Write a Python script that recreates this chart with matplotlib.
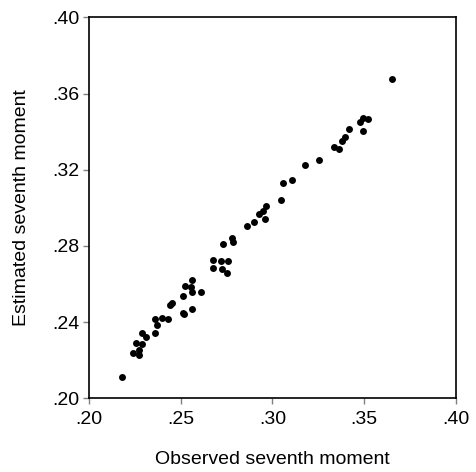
import matplotlib
matplotlib.use("Agg")
import matplotlib.pyplot as plt
from matplotlib.ticker import FuncFormatter

plt.rcParams['font.family'] = ['Liberation Sans', 'DejaVu Sans']

# observed vs estimated seventh moment
observed = [0.2180, 0.2240, 0.2273, 0.2255, 0.2286, 0.2289, 0.2307, 0.2359, 0.2360, 0.2371,
            0.2399, 0.2431, 0.2440, 0.2454, 0.2513, 0.2519, 0.2513, 0.2524, 0.2559, 0.2555,
            0.2562, 0.2559, 0.2610, 0.2673, 0.2677, 0.2719, 0.2724, 0.2750, 0.2755, 0.2732,
            0.2781, 0.2783, 0.2861, 0.2899, 0.2928, 0.2946, 0.2963, 0.2959, 0.3046, 0.3056,
            0.3108, 0.3176, 0.3254, 0.3336, 0.3365, 0.3381, 0.3398, 0.3419, 0.3478, 0.3492,
            0.3523, 0.3496, 0.3654, 0.2273]
estimated = [0.2114, 0.2236, 0.2227, 0.2289, 0.2283, 0.2341, 0.2324, 0.2341, 0.2415, 0.2385,
             0.2420, 0.2415, 0.2490, 0.2502, 0.2450, 0.2441, 0.2537, 0.2591, 0.2621, 0.2583,
             0.2560, 0.2467, 0.2556, 0.2726, 0.2682, 0.2721, 0.2677, 0.2660, 0.2723, 0.2810,
             0.2843, 0.2819, 0.2906, 0.2927, 0.2966, 0.2985, 0.3010, 0.2940, 0.3041, 0.3132,
             0.3146, 0.3225, 0.3249, 0.3318, 0.3309, 0.3349, 0.3374, 0.3414, 0.3452, 0.3470,
             0.3466, 0.3403, 0.3675, 0.2255]

x_ticks = [0.20, 0.25, 0.30, 0.35, 0.40]
y_ticks = [0.20, 0.24, 0.28, 0.32, 0.36, 0.40]

fig = plt.figure(figsize=(4.76, 4.72), dpi=100)
ax = fig.add_axes([0.1876, 0.1561, 0.7697, 0.8072])

ax.plot(observed, estimated, 'o', color='black', markersize=5, markeredgewidth=0)

ax.set_xlim(0.20, 0.40)
ax.set_ylim(0.20, 0.40)
ax.set_xticks(x_ticks)
ax.set_yticks(y_ticks)
fmt = FuncFormatter(lambda v, p: ("%.2f" % v).lstrip('0'))
ax.xaxis.set_major_formatter(fmt)
ax.yaxis.set_major_formatter(fmt)

ax.tick_params(direction='out', length=4, width=1, color='#808080', labelsize=14)
ax.tick_params(axis='x', pad=5)
ax.tick_params(axis='y', pad=3)
for s in ax.spines.values():
    s.set_linewidth(1.2)
    s.set_color('black')

ax.set_xlabel('Observed seventh moment', fontsize=14, labelpad=17)
ax.set_ylabel('Estimated seventh moment', fontsize=14, labelpad=16)

fig.savefig('out.png', dpi=100)
